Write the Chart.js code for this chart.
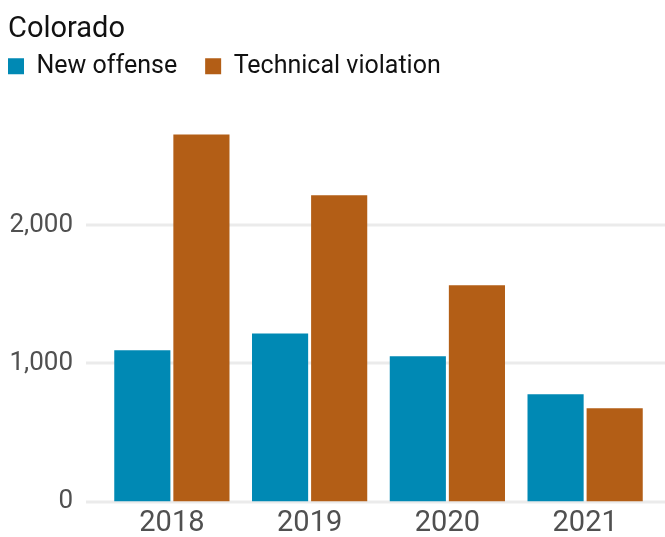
<!DOCTYPE html>
<html>
<head>
<meta charset="utf-8">
<script src="https://cdn.jsdelivr.net/npm/chart.js@4/dist/chart.umd.min.js"></script>
<style>
  html, body { margin: 0; padding: 0; background: #fff; }
</style>
</head>
<body>
<canvas id="bar-chart" width="665" height="537"></canvas>
<script>
const years = ["2018", "2019", "2020", "2021"];
const newOffense = [1095, 1215, 1050, 775];
const techViolation = [2655, 2215, 1565, 675];
const yTicks = [0, 1000, 2000];

const FONT = "Roboto, 'Liberation Sans', sans-serif";

// gridlines run wider than the plot area, so draw them by hand
const gridPlugin = {
  id: 'wideGrid',
  beforeDatasetsDraw(chart) {
    const ctx = chart.ctx;
    const y = chart.scales.y;
    ctx.save();
    ctx.strokeStyle = '#ebebeb';
    ctx.lineWidth = 3;
    yTicks.forEach(function(v) {
      const py = Math.round(y.getPixelForValue(v));
      ctx.beginPath();
      ctx.moveTo(86, py);
      ctx.lineTo(665, py);
      ctx.stroke();
    });
    ctx.restore();
  }
};

// nudge the legend up against the left edge
const legendShift = {
  id: 'legendShift',
  afterLayout(chart) {
    const lg = chart.legend;
    const pad = chart.options.plugins.legend.labels.padding;
    const dx = lg.left + pad - 8;
    lg.left -= dx;
    lg.right -= dx;
    lg.top += 2;
    lg.bottom += 2;
  }
};

new Chart(document.getElementById("bar-chart"), {
  type: 'bar',
  data: {
    labels: years,
    datasets: [{
        label: "New offense",
        data: newOffense,
        backgroundColor: "#0089b4"
      }, {
        label: "Technical violation",
        data: techViolation,
        backgroundColor: "#b35e16"
      }
    ]
  },
  options: {
    responsive: false,
    animation: false,
    devicePixelRatio: 1,
    layout: { padding: { left: 8, right: 11, top: 0, bottom: 0 } },
    datasets: {
      bar: { categoryPercentage: 0.858, barPercentage: 0.95 }
    },
    plugins: {
      tooltip: { enabled: false },
      title: {
        display: true,
        text: 'Colorado',
        align: 'start',
        color: '#111',
        font: { family: FONT, size: 29, weight: 'normal', lineHeight: 1.2 },
        padding: { top: 12, bottom: -23 }
      },
      legend: {
        display: true,
        position: 'top',
        align: 'start',
        labels: {
          boxWidth: 16,
          boxHeight: 16,
          padding: 28,
          color: '#111',
          font: { family: FONT, size: 25 }
        }
      }
    },
    scales: {
      x: {
        grid: { display: false, drawTicks: false },
        border: { display: false },
        afterFit(scale) { scale.height = 35.5; },
        ticks: {
          color: '#505050',
          padding: 8,
          font: { family: FONT, size: 29, lineHeight: 0.95 }
        }
      },
      y: {
        min: 0,
        max: 3000,
        grid: { display: false, drawTicks: false },
        border: { display: false },
        afterFit(scale) {
          scale.width = 95;
          scale.paddingTop = 0;
          scale.paddingBottom = 0;
        },
        ticks: {
          stepSize: 1000,
          color: '#505050',
          padding: 30,
          font: { family: FONT, size: 26 },
          callback: function(v) {
            if (yTicks.indexOf(v) < 0) return null;
            return v.toLocaleString('en-US');
          }
        }
      }
    }
  },
  plugins: [gridPlugin, legendShift]
});
</script>
</body>
</html>
